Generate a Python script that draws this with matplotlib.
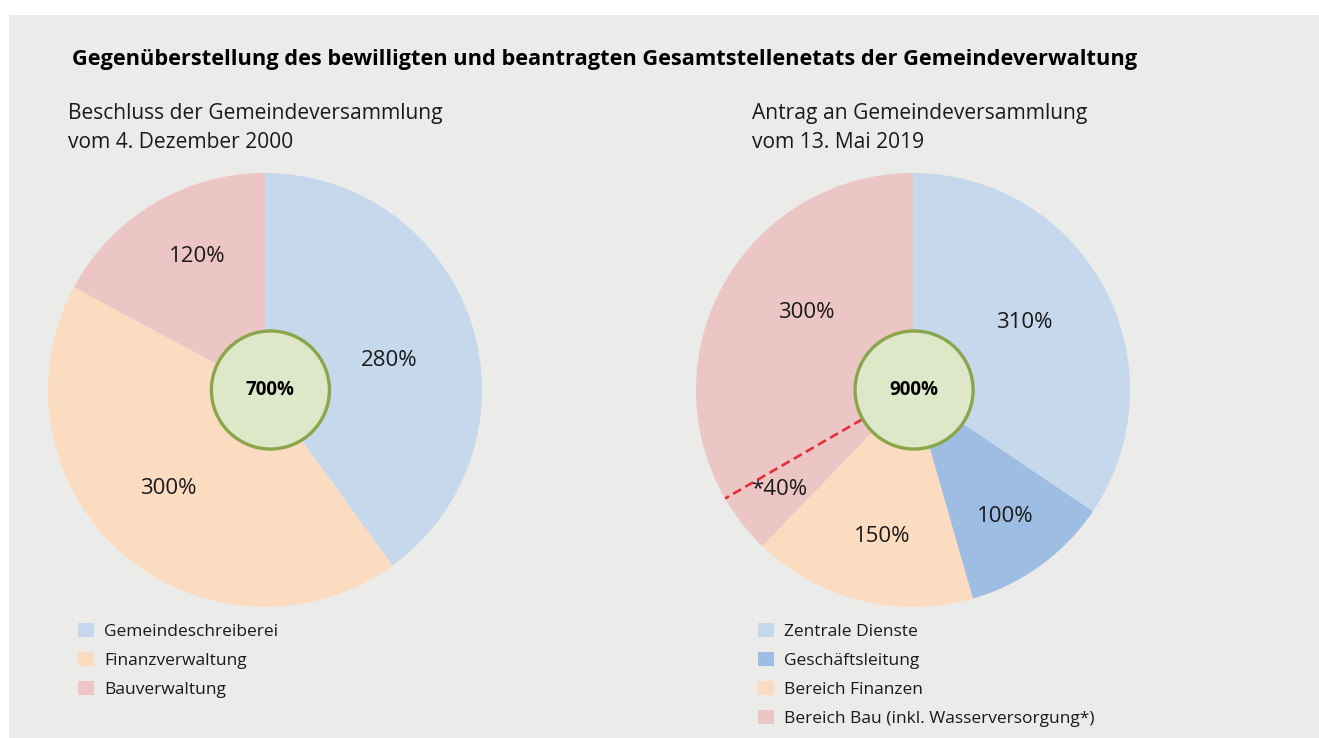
import matplotlib.pyplot as plt
import matplotlib.patches as mpatches
import numpy as np

plt.rcParams['font.family'] = ['Open Sans', 'DejaVu Sans']

# Data
title = "Gegenüberstellung des bewilligten und beantragten Gesamtstellenetats der Gemeindeverwaltung"

left_title = "Beschluss der Gemeindeversammlung\nvom 4. Dezember 2000"
left_labels = ["Gemeindeschreiberei", "Finanzverwaltung", "Bauverwaltung"]
left_values = [280, 300, 120]
left_total = "700%"

right_title = "Antrag an Gemeindeversammlung\nvom 13. Mai 2019"
right_labels = ["Zentrale Dienste", "Geschäftsleitung", "Bereich Finanzen",
                "Bereich Bau (inkl. Wasserversorgung*)"]
right_values = [310, 100, 150, 40, 300]   # Bau split: 40 (Wasser) + 300
right_slice_text = ["310%", "100%", "150%", "*40%", "300%"]
right_total = "900%"

# Styles
c_blue = "#c5d8ec"
c_blue2 = "#9ebde3"
c_orange = "#fcdcc0"
c_red = "#ecc5c5"
bg = "#ebebe9"
W, H = 1319, 738

fig = plt.figure(figsize=(W / 100, H / 100), dpi=100)
fig.patch.set_facecolor("white")
fig.patches.append(mpatches.Rectangle((9 / W, 0), 1 - 9 / W, (H - 15) / H,
                                      transform=fig.transFigure, facecolor=bg,
                                      edgecolor="none", zorder=-10))

fig.text(72 / W, 1 - 60 / H, title, fontsize=15.7, fontweight="bold",
         va="center", ha="left")
fig.text(68 / W, 1 - 128 / H, left_title, fontsize=15.1, va="center",
         ha="left", linespacing=1.55, color="#1a1a1a")
fig.text(752 / W, 1 - 128 / H, right_title, fontsize=15.1, va="center",
         ha="left", linespacing=1.55, color="#1a1a1a")


def make_pie(cx, cy, r, values, colors):
    ax = fig.add_axes([(cx - r) / W, 1 - (cy + r) / H, 2 * r / W, 2 * r / H])
    wedges, _ = ax.pie(values, colors=colors, startangle=90, counterclock=False,
                       wedgeprops=dict(linewidth=0))
    ax.set_xlim(-1, 1)
    ax.set_ylim(-1, 1)
    return ax, wedges


def slice_labels(ax, values, texts, radii, shifts):
    total = sum(values)
    start = 90.0
    for v, t, rr, sh in zip(values, texts, radii, shifts):
        ang = start - v / total * 180 + sh
        start -= v / total * 360
        ax.text(rr * np.cos(np.radians(ang)), rr * np.sin(np.radians(ang)), t,
                fontsize=16, ha="center", va="center", color="#1a1a1a")


def center_disc(ax, dx, text):
    ax.add_patch(mpatches.Circle((dx, 0), 0.272, facecolor="#dee8c8",
                                 edgecolor="#8aa64b", linewidth=2.4, zorder=5))
    ax.text(dx, 0, text, fontsize=13.5, fontweight="bold", ha="center",
            va="center", zorder=6)


R = 217
ax1, w1 = make_pie(265, 390, R, left_values, [c_blue, c_orange, c_red])
slice_labels(ax1, left_values, ["280%", "300%", "120%"],
             [0.59, 0.635, 0.69], [-4.5, -3.5, -4])
center_disc(ax1, 0.025, left_total)

ax2, w2 = make_pie(913, 390, R, right_values,
                   [c_blue, c_blue2, c_orange, c_red, c_red])
slice_labels(ax2, right_values, right_slice_text,
             [0.60, 0.72, 0.69, 0.77, 0.61], [3, 0, 2, -1.5, -6])

# dashed separator for the Wasserversorgung part
total2 = sum(right_values)
sep = np.radians(90 - sum(right_values[:4]) / total2 * 360)
ax2.plot([0.27 * np.cos(sep), np.cos(sep)], [0.27 * np.sin(sep), np.sin(sep)],
         color="#e5303a", linewidth=1.9, dashes=(3.5, 1.8), zorder=4)
center_disc(ax2, 0.005, right_total)

leg_kw = dict(loc="upper left", frameon=False, fontsize=12.5,
              handlelength=0.9, handleheight=0.9, handletextpad=0.6,
              labelspacing=0.68, borderpad=0, borderaxespad=0,
              bbox_transform=fig.transFigure, labelcolor="#1a1a1a")
fig.legend(w1, left_labels, bbox_to_anchor=(78 / W, 1 - 623 / H), **leg_kw)
fig.legend(w2[:4], right_labels, bbox_to_anchor=(758 / W, 1 - 623 / H), **leg_kw)

fig.savefig("out.png", dpi=100)
